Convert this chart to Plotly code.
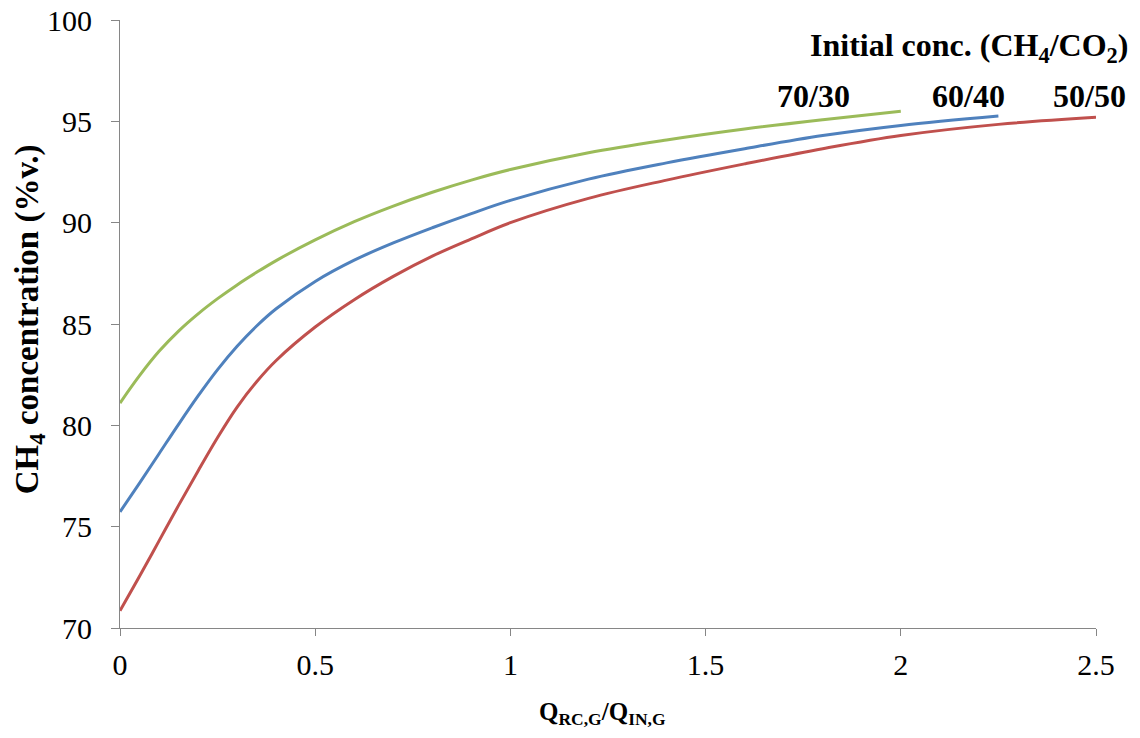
import plotly.graph_objects as go

# Data
x_50_50 = [0, 0.05, 0.1, 0.15, 0.2, 0.25, 0.3, 0.35, 0.4, 0.5, 0.6, 0.7, 0.8, 0.9, 1.0,
           1.2, 1.4, 1.6, 1.8, 2.0, 2.25, 2.5]
y_50_50 = [70.85, 72.55, 74.3, 76.05, 77.75, 79.4, 80.9, 82.15, 83.2, 84.85, 86.2, 87.35,
           88.35, 89.2, 90.0, 91.2, 92.1, 92.9, 93.65, 94.3, 94.85, 95.2]

x_60_40 = [0, 0.05, 0.1, 0.15, 0.2, 0.25, 0.3, 0.35, 0.4, 0.5, 0.6, 0.7, 0.8, 0.9, 1.0,
           1.2, 1.4, 1.6, 1.8, 2.0, 2.25]
y_60_40 = [75.73, 77.15, 78.6, 80.05, 81.45, 82.75, 83.9, 84.9, 85.75, 87.1, 88.15, 89.0,
           89.75, 90.45, 91.1, 92.15, 92.95, 93.65, 94.3, 94.8, 95.26]

x_70_30 = [0, 0.05, 0.1, 0.15, 0.2, 0.25, 0.3, 0.35, 0.4, 0.5, 0.6, 0.7, 0.8, 0.9, 1.0,
           1.2, 1.4, 1.6, 1.8, 2.0]
y_70_30 = [81.1, 82.45, 83.65, 84.65, 85.5, 86.25, 86.93, 87.55, 88.13, 89.15, 90.05, 90.82,
           91.5, 92.1, 92.62, 93.45, 94.08, 94.62, 95.08, 95.5]

series_labels = ["70/30", "60/40", "50/50"]
x_ticks = [0, 0.5, 1, 1.5, 2, 2.5]
x_tick_text = ["0", "0.5", "1", "1.5", "2", "2.5"]
y_ticks = [70, 75, 80, 85, 90, 95, 100]

GREEN = "#9BBB59"
BLUE = "#4F81BD"
RED = "#C0504D"
SERIF = "Liberation Serif, Times New Roman, serif"

fig = go.Figure()
for xs, ys, col, name in [(x_70_30, y_70_30, GREEN, "70/30"),
                          (x_60_40, y_60_40, BLUE, "60/40"),
                          (x_50_50, y_50_50, RED, "50/50")]:
    fig.add_trace(go.Scatter(x=xs, y=ys, mode="lines", name=name,
                             line=dict(color=col, width=3, shape="spline", smoothing=1.0)))

# the page body has an 8px margin, so the figure is sized to fit inside the window
fig.update_layout(
    width=1124, height=722,
    margin=dict(l=112, r=36, t=12, b=102, autoexpand=False),
    paper_bgcolor="white", plot_bgcolor="white",
    showlegend=False,
    font=dict(family=SERIF, color="black", size=30),
)
fig.update_xaxes(range=[0, 2.5], tickvals=x_ticks, ticktext=x_tick_text,
                 showgrid=False, zeroline=False, showline=True, linecolor="#868686",
                 linewidth=1, ticks="outside", ticklen=7, tickcolor="#868686",
                 tickfont=dict(family=SERIF, size=30, color="black"),
                 ticklabelstandoff=3, automargin=False, ticklabeloverflow="allow")
fig.update_yaxes(range=[70, 100], tickvals=y_ticks,
                 showgrid=False, zeroline=False, showline=True, linecolor="#868686",
                 linewidth=1, ticks="outside", ticklen=8, tickcolor="#868686",
                 tickfont=dict(family=SERIF, size=30, color="black"),
                 ticklabelstandoff=13, automargin=False, ticklabeloverflow="allow")

ann = []
ann.append(dict(text="<b>CH<sub>4</sub> concentration (%v.)</b>", xref="paper", yref="paper",
                x=-0.093, y=0.508, textangle=-90, showarrow=False, xanchor="center", yanchor="middle",
                font=dict(family=SERIF, size=33, color="black")))
ann.append(dict(text="<b>Q<sub>RC,G</sub>/Q<sub>IN,G</sub></b>", xref="paper", yref="paper",
                x=0.494, y=-0.14, showarrow=False, xanchor="center", yanchor="middle",
                font=dict(family=SERIF, size=25, color="black")))
ann.append(dict(text="<b>Initial conc. (CH<sub>4</sub>/CO<sub>2</sub>)</b>", xref="paper", yref="paper",
                x=1.035, y=0.954, showarrow=False, xanchor="right", yanchor="middle",
                font=dict(family=SERIF, size=32, color="black")))
label_pos = {"70/30": 0.711, "60/40": 0.869, "50/50": 0.993}
for lab in series_labels:
    ann.append(dict(text="<b>%s</b>" % lab, xref="paper", yref="paper",
                    x=label_pos[lab], y=0.875, showarrow=False, xanchor="center", yanchor="middle",
                    font=dict(family=SERIF, size=32, color="black")))
fig.update_layout(annotations=ann)

fig.write_html("out.html")
